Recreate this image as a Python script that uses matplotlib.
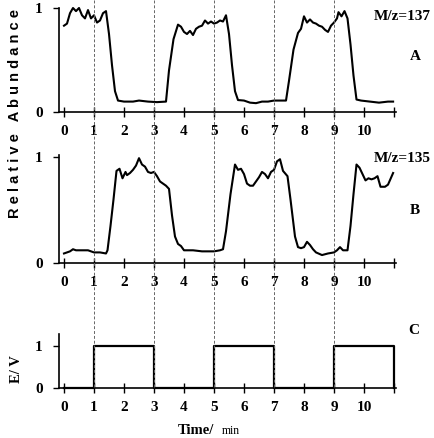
import matplotlib
matplotlib.use('Agg')
import matplotlib.pyplot as plt

# ===== DADOS =====
t_a = [0.0, 0.1, 0.2, 0.3, 0.4, 0.5, 0.6, 0.7, 0.8, 0.9, 1.0, 1.1, 1.2, 1.3, 1.4,
       1.5, 1.6, 1.7, 1.8, 2.0, 2.3, 2.5, 2.8, 3.1, 3.4, 3.5, 3.65, 3.8, 3.9, 4.0,
       4.1, 4.2, 4.3, 4.4, 4.5, 4.6, 4.7, 4.8, 4.9, 5.0, 5.1, 5.2, 5.3, 5.4, 5.5,
       5.6, 5.7, 5.8, 6.0, 6.2, 6.4, 6.6, 6.8, 7.0, 7.2, 7.4, 7.5, 7.65, 7.8, 7.9,
       8.0, 8.1, 8.2, 8.3, 8.4, 8.5, 8.6, 8.7, 8.8, 8.9, 9.0, 9.1, 9.15, 9.25, 9.35,
       9.45, 9.55, 9.65, 9.75, 9.9, 10.2, 10.5, 10.8, 10.97]
y_a = [0.83, 0.85, 0.95, 1.0, 0.97, 1.0, 0.93, 0.9, 0.98, 0.9, 0.93, 0.86, 0.88, 0.95, 0.97,
       0.75, 0.45, 0.2, 0.11, 0.1, 0.1, 0.11, 0.1, 0.095, 0.1, 0.4, 0.7, 0.84, 0.82, 0.77,
       0.75, 0.78, 0.74, 0.8, 0.82, 0.83, 0.88, 0.85, 0.87, 0.85, 0.86, 0.88, 0.87, 0.93, 0.75,
       0.45, 0.2, 0.115, 0.11, 0.09, 0.085, 0.1, 0.1, 0.11, 0.11, 0.11, 0.3, 0.6, 0.76, 0.8,
       0.92, 0.86, 0.89, 0.86, 0.85, 0.83, 0.82, 0.79, 0.77, 0.83, 0.86, 0.9, 0.96, 0.92, 0.97,
       0.9, 0.65, 0.35, 0.12, 0.11, 0.1, 0.09, 0.1, 0.1]

t_b = [0.0, 0.1, 0.2, 0.3, 0.4, 0.6, 0.8, 0.9, 1.0, 1.2, 1.4, 1.45, 1.55, 1.65, 1.75,
       1.85, 1.95, 2.05, 2.1, 2.2, 2.3, 2.4, 2.5, 2.6, 2.7, 2.8, 2.9, 3.0, 3.1, 3.2,
       3.4, 3.5, 3.6, 3.7, 3.8, 3.9, 4.0, 4.3, 4.6, 4.8, 5.0, 5.2, 5.3, 5.4, 5.55,
       5.7, 5.8, 5.9, 6.0, 6.1, 6.2, 6.3, 6.4, 6.5, 6.6, 6.7, 6.8, 6.9, 7.0, 7.1,
       7.2, 7.3, 7.45, 7.55, 7.7, 7.8, 7.9, 8.0, 8.1, 8.2, 8.3, 8.4, 8.6, 8.8, 9.0,
       9.1, 9.2, 9.3, 9.45, 9.55, 9.65, 9.75, 9.85, 9.95, 10.05, 10.15, 10.25, 10.35,
       10.45, 10.55, 10.7, 10.8, 10.97]
y_b = [0.09, 0.1, 0.11, 0.13, 0.12, 0.12, 0.12, 0.11, 0.1, 0.1, 0.09, 0.12, 0.35, 0.6, 0.87,
       0.89, 0.8, 0.86, 0.83, 0.85, 0.88, 0.92, 0.99, 0.93, 0.91, 0.86, 0.85, 0.86, 0.82, 0.77,
       0.73, 0.7, 0.45, 0.25, 0.18, 0.16, 0.12, 0.12, 0.11, 0.11, 0.11, 0.12, 0.13, 0.3, 0.65,
       0.93, 0.88, 0.89, 0.84, 0.75, 0.73, 0.73, 0.77, 0.81, 0.86, 0.84, 0.8, 0.86, 0.88, 0.96,
       0.98, 0.87, 0.82, 0.6, 0.25, 0.15, 0.14, 0.15, 0.2, 0.17, 0.13, 0.1, 0.075, 0.09, 0.1,
       0.12, 0.15, 0.12, 0.12, 0.35, 0.65, 0.93, 0.9, 0.84, 0.78, 0.8, 0.79, 0.8,
       0.82, 0.72, 0.72, 0.74, 0.85]

t_c = [0, 1, 1, 3, 3, 5, 5, 7, 7, 9, 9, 11, 11]
e_c = [0, 0, 1, 1, 0, 0, 1, 1, 0, 0, 1, 1, 0]

switch_times = [1, 3, 5, 7, 9]
xticks = list(range(12))
xticklabels = [str(i) for i in range(11)] + ['']

# ===== LAYOUT =====
W, H = 434, 438
fig = plt.figure(figsize=(W / 100, H / 100), dpi=100)

x0_px = 64.0      # pixel de t = 0
px_per_min = 30.0
xlim = (-0.15, 11.05)
left = (x0_px + xlim[0] * px_per_min) / W
width = (xlim[1] - xlim[0]) * px_per_min / W

serif = dict(family='Liberation Serif', weight='bold')


def make_ax(top_px, bottom_px, ylim):
    ax = fig.add_axes([left, 1 - bottom_px / H, width, (bottom_px - top_px) / H])
    ax.set_xlim(*xlim)
    ax.set_ylim(*ylim)
    ax.patch.set_alpha(0)
    for s in ('top', 'right'):
        ax.spines[s].set_visible(False)
    for s in ('left', 'bottom'):
        ax.spines[s].set_linewidth(1.2)
    ax.set_xticks(xticks)
    ax.set_xticklabels(xticklabels, fontsize=11, **serif)
    ax.set_yticks([0, 1])
    ax.set_yticklabels(['0', '1'], fontsize=11, **serif)
    ax.tick_params(axis='x', direction='inout', length=7, width=1, pad=6)
    ax.tick_params(axis='y', direction='out', length=4, width=1, pad=8)
    return ax


ax1 = make_ax(8, 112, (0, 1.0))
ax2 = make_ax(155, 263, (0, 1.02))
ax3 = make_ax(334, 388, (0, 1.29))

ax1.plot(t_a, y_a, color='black', linewidth=1.5, clip_on=False)
ax2.plot(t_b, y_b, color='black', linewidth=1.5, clip_on=False)
ax3.plot(t_c, e_c, color='black', linewidth=1.6, clip_on=False)

# linhas tracejadas que atravessam os três painéis
ov = fig.add_axes([left, 0, width, 1])
ov.set_xlim(*xlim)
ov.set_ylim(H, 0)
ov.axis('off')
ov.vlines(switch_times, 0, 388, colors='#666666', linestyles=(0, (3, 2)), linewidth=0.7)

# ===== TEXTOS =====
fig.text(402 / W, 1 - 17 / H, 'M/z=137', ha='center', va='center', fontsize=11, **serif)
fig.text(415 / W, 1 - 57 / H, 'A', ha='center', va='center', fontsize=11, **serif)
fig.text(402 / W, 1 - 158 / H, 'M/z=135', ha='center', va='center', fontsize=11, **serif)
fig.text(415 / W, 1 - 211 / H, 'B', ha='center', va='center', fontsize=11, **serif)
fig.text(414 / W, 1 - 330 / H, 'C', ha='center', va='center', fontsize=11, **serif)

fig.text(15 / W, 1 - 114 / H, 'R e l a t i v e   A b u n d a n c e', rotation=90,
         ha='center', va='center', fontsize=10.5, family='Liberation Sans', weight='bold')
fig.text(16 / W, 1 - 369 / H, 'E/ V', rotation=90, ha='center', va='center',
         fontsize=10.5, **serif)
fig.text(196 / W, 1 - 430 / H, 'Time/', ha='center', va='center', fontsize=10.5, **serif)
fig.text(222 / W, 1 - 431 / H, 'min', ha='left', va='center', fontsize=8.5,
         family='Liberation Serif')

plt.savefig('out.png', dpi=100)
